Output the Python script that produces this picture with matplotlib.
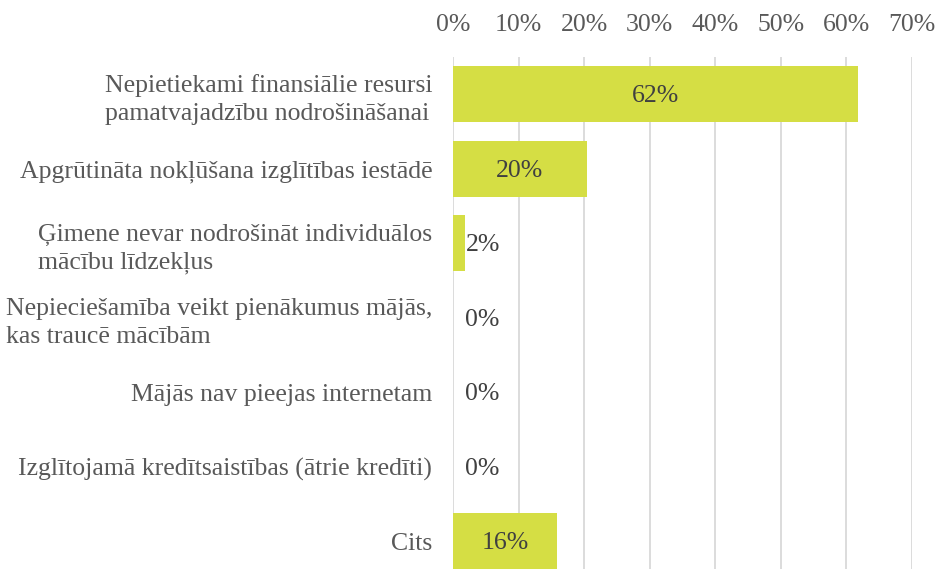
import matplotlib
matplotlib.use("Agg")
import matplotlib.pyplot as plt
from matplotlib.ticker import FuncFormatter

categories = [
    "Nepietiekami finansiālie resursi\npamatvajadzību nodrošināšanai",
    "Apgrūtināta nokļūšana izglītības iestādē",
    "Ģimene nevar nodrošināt individuālos\nmācību līdzekļus",
    "Nepieciešamība veikt pienākumus mājās,\nkas traucē mācībām",
    "Mājās nav pieejas internetam",
    "Izglītojamā kredītsaistības (ātrie kredīti)",
    "Cits",
]
values = [0.618, 0.204, 0.018, 0.0, 0.0, 0.0, 0.158]
labels = ["62%", "20%", "2%", "0%", "0%", "0%", "16%"]
xticks = [0, 0.1, 0.2, 0.3, 0.4, 0.5, 0.6, 0.7]

plt.rcParams['font.family'] = ['Liberation Serif', 'DejaVu Serif']
FS = 18.5

fig = plt.figure(figsize=(9.37, 5.69), dpi=100)
ax = fig.add_axes([0.4835, -0.0165, 0.4898, 0.9165])

y = list(range(len(categories)))
ax.barh(y, values, height=0.75, color='#D5DE44', zorder=3)
ax.set_ylim(len(categories) - 0.5, -0.5)
ax.set_xlim(0, 0.7)
ax.set_xticks(xticks)
ax.xaxis.set_major_formatter(FuncFormatter(lambda v, p: f"{round(v*100):d}%"))
ax.xaxis.tick_top()
ax.tick_params(axis='x', length=0, pad=15, labelsize=FS, labelcolor='#595959')
ax.tick_params(axis='y', length=0, pad=15, labelsize=FS, labelcolor='#595959')
ax.set_yticks(y)
ax.set_yticklabels(categories, multialignment='left', linespacing=1.35)
ax.grid(axis='x', color='#D9D9D9', linewidth=1.3, zorder=0)
for s in ax.spines.values():
    s.set_visible(False)

for i, (v, lab) in enumerate(zip(values, labels)):
    if v >= 0.05:
        ax.text(v / 2, i + 0.03, lab, ha='center', va='center', fontsize=FS, color='#404040', zorder=4)
    else:
        ax.text(0.019, i + 0.03, lab, ha='left', va='center', fontsize=FS, color='#404040', zorder=4)

fig.savefig("out.png", dpi=100)
